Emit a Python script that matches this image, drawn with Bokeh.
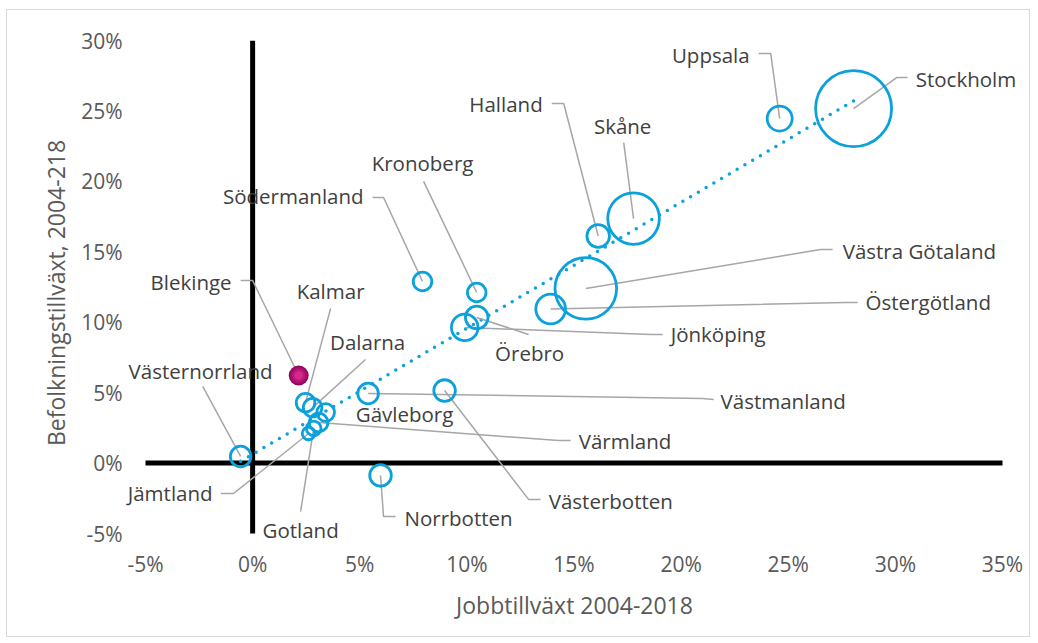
import numpy as np
from bokeh.plotting import figure
from bokeh.models import ColumnDataSource, Range1d, PrintfTickFormatter, FixedTicker
from bokeh.core.properties import value
from bokeh.embed import file_html
from bokeh.resources import INLINE

# ---------------- data ----------------
regions = ["Stockholm", "Uppsala", "Skåne", "Halland", "Västra Götaland", "Östergötland",
           "Kronoberg", "Örebro", "Jönköping", "Södermanland", "Västerbotten", "Västmanland",
           "Norrbotten", "Västernorrland", "Kalmar", "Dalarna", "Gävleborg", "Värmland",
           "Gotland", "Jämtland", "Blekinge"]
job_growth = [28.05, 24.6, 17.78, 16.13, 15.55, 13.91, 10.46, 10.46, 9.9, 7.93, 8.96, 5.39,
              5.97, -0.56, 2.47, 2.8, 3.41, 3.08, 2.85, 2.61, 2.15]
pop_growth = [25.17, 24.46, 17.36, 16.12, 12.4, 10.94, 12.11, 10.34, 9.63, 12.89, 5.15, 4.94,
              -0.88, 0.47, 4.29, 3.94, 3.59, 2.88, 2.46, 2.1, 6.22]
bubble_size = [2345, 254, 1081, 207, 1540, 356, 140, 207, 287, 140, 189, 172,
               189, 172, 140, 140, 126, 140, 87, 64, 162]
highlight = ["Blekinge"]

x_ticks = [-5, 0, 5, 10, 15, 20, 25, 30, 35]
y_ticks = [-5, 0, 5, 10, 15, 20, 25, 30]
x_title = "Jobbtillväxt 2004-2018"
y_title = "Befolkningstillväxt, 2004-218"

# label placement (data coordinates): text anchor, alignment, leader path start/elbow
label_pos = {
    "Stockholm":       (30.95, 27.3, "left",   [(30.57, 27.37), (30.06, 27.37)]),
    "Uppsala":         (23.2, 29.0, "right",   [(23.62, 29.08), (24.18, 29.08)]),
    "Halland":         (13.54, 25.46, "right", [(13.96, 25.53), (14.52, 25.53)]),
    "Skåne":           (17.27, 23.96, "center", [(17.32, 22.75)]),
    "Kronoberg":       (7.93, 21.3, "center",  [(7.98, 20.0)]),
    "Södermanland":    (5.18, 18.99, "right",  [(5.6, 18.85), (6.11, 18.85)]),
    "Västra Götaland": (27.54, 15.09, "left",  [(27.07, 15.16), (26.51, 15.16)]),
    "Östergötland":    (28.61, 11.4, "left",   [(28.24, 11.4), (27.68, 11.4)]),
    "Jönköping":       (19.51, 9.13, "left",   [(19.14, 9.13), (18.58, 9.13)]),
    "Örebro":          (12.93, 7.78, "center", [(12.88, 9.13)]),
    "Västmanland":     (21.84, 4.44, "left",   [(21.52, 4.52), (21.0, 4.59)]),
    "Västerbotten":    (13.82, -2.66, "left",  [(13.44, -2.58), (12.88, -2.58)]),
    "Värmland":        (15.22, 1.6, "left",    [(14.84, 1.6), (14.28, 1.6)]),
    "Gävleborg":       (7.09, 3.45, "center",  []),
    "Dalarna":         (5.37, 8.56, "center",  [(5.27, 7.35)]),
    "Kalmar":          (3.64, 12.25, "center", [(3.64, 10.98)]),
    "Blekinge":        (-0.98, 12.89, "right", [(-0.56, 12.96), (0.0, 12.96)]),
    "Västernorrland":  (-2.43, 6.57, "center", [(-2.33, 5.44)]),
    "Jämtland":        (-1.87, -2.09, "right", [(-1.49, -2.16), (-0.89, -2.16)]),
    "Gotland":         (2.24, -4.78, "center", [(2.24, -3.44)]),
    "Norrbotten":      (7.09, -3.93, "left",   [(6.67, -3.79), (6.11, -3.79)]),
}

BLUE = "#0AA1DC"
FONT = "Open Sans"

# scale: pixels per percentage point, and padding of the frame beyond the tick range
PX_X, PX_Y = 21.425, 14.086
x0, x1 = x_ticks[0], x_ticks[-1]
y0, y1 = y_ticks[0], y_ticks[-1]
pad_l, pad_r, pad_b = 22, 23, 12
frame_w = int(round((x1 - x0) * PX_X)) + pad_l + pad_r
frame_h = int(round((y1 - y0) * PX_Y)) + pad_b

p = figure(frame_width=frame_w, frame_height=frame_h,
           min_border_left=116, min_border_right=4, min_border_top=30, min_border_bottom=91,
           x_range=Range1d(x0 - pad_l / PX_X, x1 + pad_r / PX_X),
           y_range=Range1d(y0 - pad_b / PX_Y, y1),
           output_backend="svg", toolbar_location=None)
p.styles = {"border": "1px solid #D9D9D9", "margin-left": "6px", "margin-top": "9px"}
p.outline_line_color = None
p.xgrid.grid_line_color = None
p.ygrid.grid_line_color = None

for ax, ticks in ((p.xaxis, x_ticks), (p.yaxis, y_ticks)):
    ax.ticker = FixedTicker(ticks=ticks)
    ax.formatter = PrintfTickFormatter(format="%d%%")
    ax.axis_line_color = None
    ax.major_tick_line_color = None
    ax.minor_tick_line_color = None
    ax.major_tick_out = 0
    ax.major_tick_in = 0
    ax.major_label_text_font = FONT
    ax.major_label_text_font_size = "21px"
    ax.major_label_text_color = "#595959"
    ax.axis_label_text_font = FONT
    ax.axis_label_text_font_size = "23px"
    ax.axis_label_text_font_style = "normal"
    ax.axis_label_text_color = "#595959"
p.xaxis.axis_label = x_title
p.yaxis.axis_label = y_title
p.xaxis.major_label_standoff = 4
p.yaxis.major_label_standoff = 1
p.xaxis.axis_label_standoff = 8
p.yaxis.axis_label_standoff = 6

# zero lines
p.segment(x0=[x0, 0], y0=[0, y0], x1=[x1, 0], y1=[0, y1], line_color="black", line_width=5)

# trend line (linear least squares)
coef = np.polyfit(job_growth, pop_growth, 1)
tx = np.array([min(job_growth), max(job_growth)])
p.line(tx, np.polyval(coef, tx), line_color=BLUE, line_width=3.5, line_dash="0 9", line_cap="round")

# leader lines
xs, ys = [], []
lx, ly, la, lt = [], [], [], []
for name, jx, py in zip(regions, job_growth, pop_growth):
    tx_, ty_, al, path = label_pos[name]
    lx.append(tx_); ly.append(ty_); la.append(al); lt.append(name)
    if path:
        pts = path + [(jx, py)]
        xs.append([q[0] for q in pts]); ys.append([q[1] for q in pts])
p.multi_line(xs, ys, line_color="#A6A6A6", line_width=1.5)

# bubbles
rmax = 38.0
smax = max(bubble_size)
radii = [rmax * np.sqrt(s / smax) for s in bubble_size]
normal = [i for i, r in enumerate(regions) if r not in highlight]
hl = [i for i, r in enumerate(regions) if r in highlight]
src = ColumnDataSource(dict(x=[job_growth[i] for i in normal], y=[pop_growth[i] for i in normal],
                            r=[radii[i] for i in normal]))
p.circle("x", "y", radius="r", radius_units="screen", source=src,
         fill_color=None, line_color=BLUE, line_width=2.8)

# highlighted bubble: magenta ball with a soft lighter centre
hx = [job_growth[i] for i in hl]
hy = [pop_growth[i] for i in hl]
hr = [radii[i] for i in hl]
for frac, col in ((1.0, "#8E0A5A"), (0.85, "#A80F6C"), (0.65, "#BE167B"), (0.42, "#CF2B8B")):
    p.circle(hx, hy, radius=[r * frac for r in hr], radius_units="screen",
             fill_color=col, line_color=None)

lsrc = ColumnDataSource(dict(x=lx, y=ly, t=lt, a=la))
p.text("x", "y", text="t", source=lsrc, text_align="a", text_baseline="middle",
       text_font=value(FONT), text_font_size="20.5px", text_color="#404040")

open("out.html", "w").write(file_html(p, INLINE))
